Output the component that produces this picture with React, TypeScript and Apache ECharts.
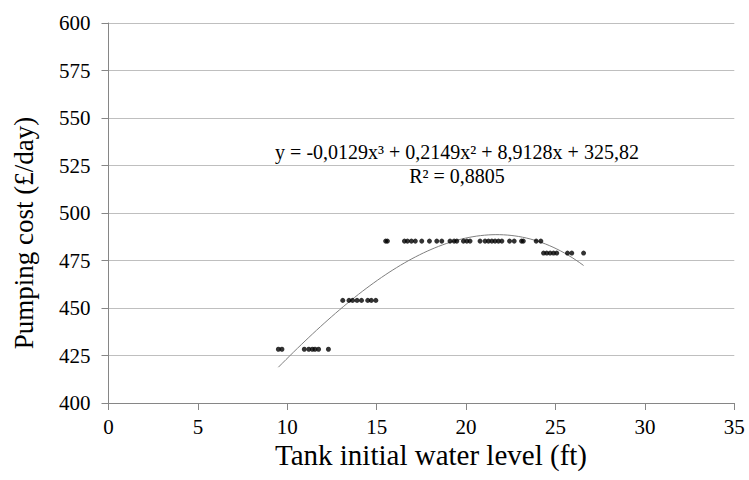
import React, { useEffect, useRef } from "react";
import * as echarts from "echarts";

// Scatter data: [tank initial water level (ft), pumping cost (£/day)]
const levelsRow428 = [9.5, 9.7, 10.95, 11.2, 11.4, 11.55, 11.75, 12.3];
const costRow428 = 428.3;
const levelsRow454 = [13.1, 13.45, 13.65, 13.9, 14.15, 14.5, 14.7, 14.95];
const costRow454 = 454.0;
const levelsRow485 = [
  15.5, 15.6, 16.55, 16.72, 16.94, 17.16, 17.52, 17.95, 18.36, 18.64, 19.1,
  19.33, 19.48, 19.85, 20.04, 20.22, 20.78, 21.06, 21.25, 21.44, 21.62, 21.81,
  22.0, 22.43, 22.69, 23.1, 23.2, 23.92, 24.18,
];
const costRow485 = 485.2;
const levelsRow479 = [24.33, 24.51, 24.7, 24.89, 25.07, 25.67, 25.91, 26.57];
const costRow479 = 478.9;

// Polynomial trendline coefficients shown on the chart (x^3, x^2, x, const)
const trendCoefficients = [-0.0129, 0.2149, 8.9128, 325.82];
const equationText = "y = -0,0129x³ + 0,2149x² + 8,9128x + 325,82";
const r2Text = "R² = 0,8805";

const xTitle = "Tank initial water level (ft)";
const yTitle = "Pumping cost (£/day)";

export default function App() {
  const ref = useRef<HTMLDivElement>(null);

  useEffect(() => {
    if (!ref.current) return;
    const chart = echarts.init(ref.current, undefined, { renderer: "svg" });

    const points: number[][] = [];
    levelsRow428.forEach((x) => points.push([x, costRow428]));
    levelsRow454.forEach((x) => points.push([x, costRow454]));
    levelsRow485.forEach((x) => points.push([x, costRow485]));
    levelsRow479.forEach((x) => points.push([x, costRow479]));

    const xs = points.map((p) => p[0]);
    const xMin = Math.min(...xs);
    const xMax = Math.max(...xs);
    const [a, b, c, d] = trendCoefficients;
    const trend: number[][] = [];
    const steps = 80;
    for (let i = 0; i <= steps; i++) {
      const x = xMin + ((xMax - xMin) * i) / steps;
      trend.push([x, a * x * x * x + b * x * x + c * x + d]);
    }

    const font = "'Liberation Serif', 'Times New Roman', serif";

    chart.setOption({
      animation: false,
      backgroundColor: "#ffffff",
      textStyle: { fontFamily: font },
      grid: { left: 108.5, right: 14.7, top: 23, bottom: 77, containLabel: false },
      xAxis: {
        type: "value",
        min: 0,
        max: 35,
        interval: 5,
        axisLine: { show: true, lineStyle: { color: "#868686", width: 1 } },
        axisTick: { show: true, length: 7, inside: false, lineStyle: { color: "#868686" } },
        axisLabel: { fontFamily: font, fontSize: 21, color: "#000", margin: 13 },
        splitLine: { show: false },
      },
      yAxis: {
        type: "value",
        min: 400,
        max: 600,
        interval: 25,
        axisLine: { show: true, lineStyle: { color: "#868686", width: 1 } },
        axisTick: { show: true, length: 7, inside: false, lineStyle: { color: "#868686" } },
        axisLabel: { fontFamily: font, fontSize: 21, color: "#000", margin: 18 },
        splitLine: { show: true, lineStyle: { color: "#bfbfbf", width: 1 } },
      },
      graphic: [
        {
          type: "text",
          x: 457,
          y: 142,
          style: {
            text: equationText,
            align: "center",
            verticalAlign: "top",
            fontFamily: font,
            fontSize: 20,
            fill: "#000",
          },
        },
        {
          type: "text",
          x: 457,
          y: 166,
          style: {
            text: r2Text,
            align: "center",
            verticalAlign: "top",
            fontFamily: font,
            fontSize: 20,
            fill: "#000",
          },
        },
        {
          type: "text",
          x: 431,
          y: 455,
          style: {
            text: xTitle,
            align: "center",
            verticalAlign: "middle",
            fontFamily: font,
            fontSize: 29,
            fill: "#000",
          },
        },
        {
          type: "text",
          x: 24,
          y: 233,
          rotation: Math.PI / 2,
          style: {
            text: yTitle,
            align: "center",
            verticalAlign: "middle",
            fontFamily: font,
            fontSize: 27,
            fill: "#000",
          },
        },
      ],
      series: [
        {
          type: "line",
          data: trend,
          showSymbol: false,
          smooth: false,
          lineStyle: { color: "#7f7f7f", width: 1 },
          z: 2,
        },
        {
          type: "scatter",
          data: points,
          symbol: "circle",
          symbolSize: 5,
          itemStyle: { color: "#000" },
          z: 3,
        },
      ],
    });

    return () => chart.dispose();
  }, []);

  return (
    <div
      ref={ref}
      style={{ position: "fixed", left: 0, top: 0, width: 749, height: 480 }}
    />
  );
}
